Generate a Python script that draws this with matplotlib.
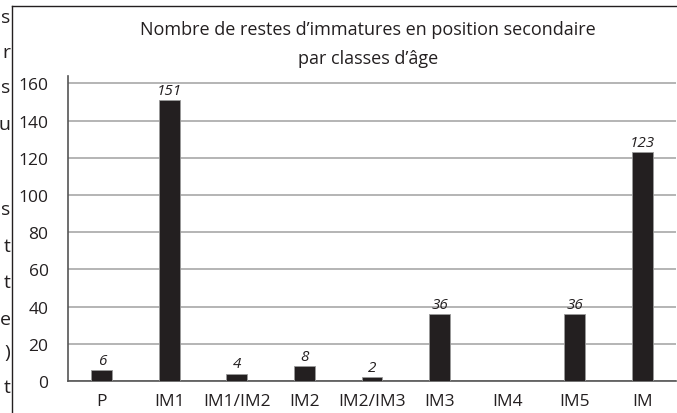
import matplotlib.pyplot as plt

plt.rcParams['font.family'] = ['Open Sans', 'DejaVu Sans']

classes = ['P', 'IM1', 'IM1/IM2', 'IM2', 'IM2/IM3', 'IM3', 'IM4', 'IM5', 'IM']
restes = [6, 151, 4, 8, 2, 36, 0, 36, 123]
etiquettes = ['6', '151', '4', '8', '2', '36', '', '36', '123']

# bouts de texte de la page coupés à gauche du cadre
marge_lettres = ['s', 'r', 's', 'u', 's', 't', 't', 'e', ')', 't']
marge_y = [18, 53, 88, 125, 210, 247, 283, 320, 353, 388]

W, H = 677, 414
fig = plt.figure(figsize=(W / 100, H / 100), dpi=100)
ax = fig.add_axes([68 / W, 1 - 382 / H, (676 - 68) / W, (382 - 77) / H])

x = range(len(classes))
ax.bar(x, restes, width=0.31, color='#231f20', edgecolor='#9a9a9a', linewidth=0.6, zorder=3)
for i, (v, t) in enumerate(zip(restes, etiquettes)):
    if t:
        ax.text(i, v + 1.2, t, ha='center', va='bottom', fontsize=11, style='italic', color='#231f20')

ax.set_xlim(-0.5, len(classes) - 0.5)
ax.set_ylim(0, 164)
ax.set_yticks(range(0, 161, 20))
ax.set_xticks(list(x))
ax.set_xticklabels(classes)
ax.tick_params(axis='both', length=0, labelsize=12.5, colors='#231f20')
ax.tick_params(axis='x', pad=9)
ax.tick_params(axis='y', pad=14)
ax.grid(axis='y', color='#a0a0a0', linewidth=1.1, zorder=0)
ax.set_axisbelow(True)
for s in ['top', 'right']:
    ax.spines[s].set_visible(False)
ax.spines['left'].set_color('#555555')
ax.spines['bottom'].set_color('#555555')
ax.spines['left'].set_linewidth(1.2)
ax.spines['bottom'].set_linewidth(1.2)

fig.text(368 / W, 1 - 30 / H, "Nombre de restes d’immatures en position secondaire",
         ha='center', va='center', fontsize=13, color='#231f20')
fig.text(368 / W, 1 - 59 / H, "par classes d’âge",
         ha='center', va='center', fontsize=13, color='#231f20')

# cadre du graphique
fig.add_artist(plt.Line2D([12 / W, 12 / W], [0, 1 - 7 / H], transform=fig.transFigure,
                          color='#231f20', linewidth=1))
fig.add_artist(plt.Line2D([12 / W, 676 / W], [1 - 7 / H, 1 - 7 / H], transform=fig.transFigure,
                          color='#231f20', linewidth=1))

for c, y in zip(marge_lettres, marge_y):
    fig.text(10.5 / W, 1 - y / H, c, ha='right', va='center', fontsize=14, color='#231f20')

plt.savefig('out.png', dpi=100)
